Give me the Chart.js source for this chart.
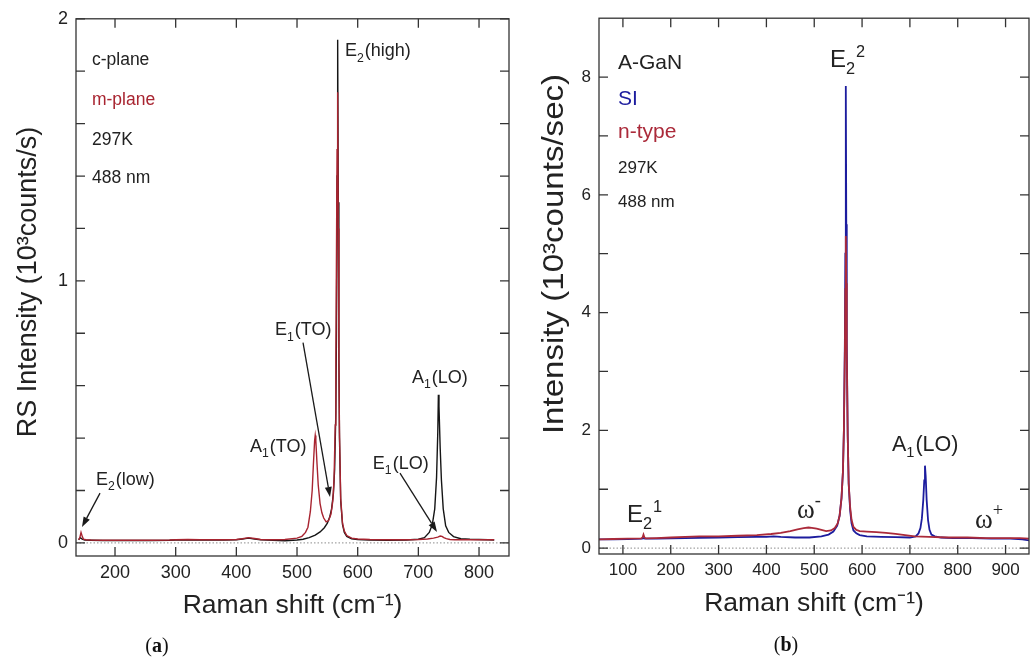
<!DOCTYPE html>
<html>
<head>
<meta charset="utf-8">
<script src="https://cdn.jsdelivr.net/npm/chart.js@4.4.1/dist/chart.umd.min.js"></script>
<style>
  html, body { margin: 0; padding: 0; background: #fff; }
  #wrap { position: relative; width: 1034px; height: 657px; overflow: hidden; }
  canvas { position: absolute; top: 0; }
  .cap { position: absolute; font: 20px "Liberation Serif", serif; color: #111; transform: translate(-50%, -50%); white-space: nowrap; }
</style>
</head>
<body>
<div id="wrap">
  <canvas id="ca" width="520" height="657" style="left:0;width:520px;height:657px"></canvas>
  <canvas id="cb" width="514" height="657" style="left:520px;width:514px;height:657px"></canvas>
  <div class="cap" style="left:157px;top:645px">(<b>a</b>)</div>
  <div class="cap" style="left:786px;top:644px">(<b>b</b>)</div>
</div>
<script>
// ---------------- Panel (a) data ----------------
const shiftA_c = [140, 143, 146, 150, 160, 180, 200, 230, 260, 290, 300, 320, 340, 360, 380, 400, 410, 420, 430, 440, 460, 480, 500, 510, 520, 530, 538, 545, 550, 554, 557, 560, 562, 564, 565, 566, 567, 568, 569, 570, 572, 575, 578, 582, 590, 600, 620, 650, 680, 700, 710, 718, 723, 727, 730, 732, 733, 734, 736, 738, 741, 745, 750, 758, 770, 785, 800, 815, 825];
const intA_c   = [0.012, 0.02, 0.014, 0.011, 0.01, 0.009, 0.009, 0.009, 0.009, 0.01, 0.011, 0.012, 0.011, 0.011, 0.011, 0.012, 0.015, 0.018, 0.015, 0.012, 0.01, 0.008, 0.011, 0.014, 0.02, 0.03, 0.042, 0.058, 0.075, 0.1, 0.13, 0.19, 0.28, 0.5, 0.8, 1.4, 1.92, 1.3, 0.7, 0.4, 0.16, 0.07, 0.04, 0.025, 0.016, 0.013, 0.011, 0.01, 0.011, 0.014, 0.02, 0.04, 0.07, 0.13, 0.25, 0.42, 0.565, 0.52, 0.36, 0.24, 0.13, 0.065, 0.04, 0.024, 0.016, 0.014, 0.013, 0.012, 0.011];

const shiftA_m = [140, 142, 144, 146, 148, 152, 160, 180, 200, 230, 260, 290, 300, 320, 340, 360, 380, 400, 410, 420, 430, 440, 460, 480, 500, 508, 514, 518, 522, 525, 527, 529, 530, 531, 533, 535, 538, 541, 544, 548, 552, 556, 559, 561, 563, 564, 565, 566, 567, 568, 569, 570, 572, 575, 578, 582, 590, 600, 620, 650, 680, 700, 715, 725, 732, 736, 739, 742, 746, 752, 760, 780, 800, 815, 825];
const intA_m   = [0.012, 0.02, 0.04, 0.025, 0.014, 0.012, 0.011, 0.01, 0.01, 0.01, 0.01, 0.011, 0.012, 0.013, 0.012, 0.012, 0.012, 0.013, 0.016, 0.02, 0.017, 0.013, 0.012, 0.013, 0.018, 0.025, 0.04, 0.06, 0.12, 0.2, 0.3, 0.39, 0.41, 0.39, 0.3, 0.22, 0.15, 0.115, 0.095, 0.08, 0.085, 0.11, 0.16, 0.24, 0.45, 0.7, 1.1, 1.5, 1.72, 1.2, 0.7, 0.42, 0.17, 0.075, 0.045, 0.028, 0.018, 0.015, 0.013, 0.012, 0.012, 0.013, 0.015, 0.018, 0.022, 0.026, 0.025, 0.02, 0.016, 0.013, 0.012, 0.012, 0.012, 0.012, 0.012];

const xTicksA = [200, 300, 400, 500, 600, 700, 800];
const yTicksA = [0, 0.2, 0.4, 0.6, 0.8, 1, 1.2, 1.4, 1.6, 1.8, 2];
const yLabelsA = [0, 1, 2];

// ---------------- Panel (b) data ----------------
const shiftB_si = [50, 80, 110, 140, 143, 146, 170, 200, 230, 260, 300, 340, 380, 400, 415, 430, 460, 490, 515, 530, 540, 548, 553, 557, 560, 562, 564, 565, 566, 567, 568, 570, 572, 575, 578, 582, 588, 595, 610, 640, 670, 700, 712, 718, 722, 725, 728, 730, 731.5, 733, 735, 738, 741, 745, 752, 765, 790, 830, 870, 910, 935, 950];
const intB_si   = [0.15, 0.15, 0.155, 0.16, 0.17, 0.16, 0.16, 0.165, 0.17, 0.175, 0.18, 0.185, 0.19, 0.19, 0.2, 0.19, 0.18, 0.18, 0.2, 0.23, 0.28, 0.38, 0.55, 0.85, 1.3, 2.0, 3.5, 5.0, 7.85, 5.5, 3.5, 1.9, 1.1, 0.65, 0.42, 0.3, 0.25, 0.22, 0.2, 0.19, 0.185, 0.18, 0.2, 0.25, 0.34, 0.5, 0.82, 1.15, 1.4, 1.22, 0.82, 0.47, 0.31, 0.23, 0.2, 0.18, 0.17, 0.17, 0.16, 0.16, 0.15, 0.13];

const shiftB_n = [50, 80, 110, 138, 141, 143, 145, 148, 170, 200, 230, 260, 300, 340, 380, 410, 430, 450, 465, 478, 488, 495, 505, 515, 525, 535, 543, 549, 553, 557, 560, 562, 564, 565, 566, 567, 568, 570, 572, 575, 578, 582, 588, 595, 610, 630, 650, 670, 690, 710, 740, 780, 820, 860, 900, 930, 950];
const intB_n   = [0.15, 0.155, 0.16, 0.165, 0.18, 0.23, 0.18, 0.165, 0.17, 0.18, 0.19, 0.2, 0.2, 0.21, 0.22, 0.24, 0.26, 0.29, 0.32, 0.34, 0.35, 0.345, 0.33, 0.31, 0.29, 0.3, 0.34, 0.42, 0.55, 0.85, 1.3, 2.0, 3.3, 4.4, 5.3, 4.5, 3.3, 1.9, 1.1, 0.7, 0.48, 0.36, 0.31, 0.29, 0.28, 0.27, 0.26, 0.24, 0.22, 0.2, 0.19, 0.18, 0.18, 0.17, 0.17, 0.17, 0.16];

const xTicksB = [100, 200, 300, 400, 500, 600, 700, 800, 900];
const yTicksB = [0, 1, 2, 3, 4, 5, 6, 7, 8];
const yLabelsB = [0, 2, 4, 6, 8];

// ---------------- helpers ----------------
const SANS = '"Liberation Sans", Arial, sans-serif';
const SERIF = '"Liberation Serif", "Times New Roman", serif';
const INK = '#222';
const RED_A = '#a82430';
const BLUE_B = '#1c1c9e';
const RED_B = '#ab2a3a';

function pts(xs, ys) { return xs.map((v, i) => ({x: v, y: ys[i]})); }

function drawRich(ctx, px, py, str, size, family, color) {
  const parts = [];
  let i = 0, buf = '';
  while (i < str.length) {
    const c = str[i];
    if ((c === '_' || c === '^') && str[i + 1] === '{') {
      if (buf) { parts.push({t: buf, m: 0}); buf = ''; }
      const j = str.indexOf('}', i);
      parts.push({t: str.slice(i + 2, j), m: c === '_' ? 1 : 2});
      i = j + 1;
    } else { buf += c; i++; }
  }
  if (buf) parts.push({t: buf, m: 0});
  ctx.save();
  ctx.fillStyle = color;
  ctx.textBaseline = 'alphabetic';
  ctx.textAlign = 'left';
  const base = py + 0.36 * size;
  let x = px;
  parts.forEach(p => {
    const s = p.m ? size * 0.68 : size;
    ctx.font = `${s}px ${family}`;
    const dy = p.m === 1 ? size * 0.3 : (p.m === 2 ? -size * 0.42 : 0);
    ctx.fillText(p.t, x, base + dy);
    x += ctx.measureText(p.t).width + (p.m ? 1 : 0);
  });
  ctx.restore();
}

const framePlugin = {
  id: 'frame',
  beforeDatasetsDraw(chart, args, o) {
    const {ctx, chartArea: a, scales: {x, y}} = chart;
    const y0 = y.getPixelForValue(0);
    ctx.save();
    ctx.strokeStyle = '#8c8c8c';
    ctx.lineWidth = 1;
    ctx.setLineDash([1.5, 2]);
    ctx.beginPath();
    ctx.moveTo(a.left, y0); ctx.lineTo(a.right, y0);
    ctx.stroke();
    ctx.restore();
  },
  afterDraw(chart, args, o) {
    const {ctx, chartArea: a, scales: {x, y}} = chart;
    ctx.save();
    ctx.strokeStyle = '#333';
    ctx.lineWidth = 1.3;
    ctx.strokeRect(a.left, a.top, a.right - a.left, a.bottom - a.top);
    ctx.beginPath();
    x.ticks.forEach(t => {
      const p = x.getPixelForValue(t.value);
      ctx.moveTo(p, a.bottom); ctx.lineTo(p, a.bottom - o.tick);
      ctx.moveTo(p, a.top); ctx.lineTo(p, a.top + o.tick);
    });
    y.ticks.forEach(t => {
      const p = y.getPixelForValue(t.value);
      ctx.moveTo(a.left, p); ctx.lineTo(a.left + o.tick, p);
      ctx.moveTo(a.right, p); ctx.lineTo(a.right - o.tick, p);
    });
    ctx.stroke();
    (o.arrows || []).forEach(ar => {
      const x1 = x.getPixelForValue(ar[0]), y1 = y.getPixelForValue(ar[1]);
      const x2 = x.getPixelForValue(ar[2]), y2 = y.getPixelForValue(ar[3]);
      const ang = Math.atan2(y2 - y1, x2 - x1);
      const L = 10, W = 3.5;
      const bx = x2 - L * Math.cos(ang), by = y2 - L * Math.sin(ang);
      ctx.strokeStyle = '#1a1a1a';
      ctx.lineWidth = 1.3;
      ctx.beginPath(); ctx.moveTo(x1, y1); ctx.lineTo(bx, by); ctx.stroke();
      ctx.fillStyle = '#1a1a1a';
      ctx.beginPath();
      ctx.moveTo(x2, y2);
      ctx.lineTo(bx - W * Math.sin(ang), by + W * Math.cos(ang));
      ctx.lineTo(bx + W * Math.sin(ang), by - W * Math.cos(ang));
      ctx.closePath(); ctx.fill();
    });
    ctx.restore();
    (o.texts || []).forEach(t => {
      drawRich(ctx, x.getPixelForValue(t[0]), y.getPixelForValue(t[1]), t[2], t[3], t[5] || SANS, t[4] || INK);
    });
    if (o.yTitle) {
      ctx.save();
      ctx.translate(o.yTitle.x, o.yTitle.y);
      ctx.rotate(-Math.PI / 2);
      ctx.scale(o.yTitle.stretch || 1, 1);
      ctx.font = `${o.yTitle.size}px ${SANS}`;
      ctx.fillStyle = INK;
      ctx.textAlign = 'center';
      ctx.textBaseline = 'middle';
      ctx.fillText(o.yTitle.text, 0, 0);
      ctx.restore();
    }
  }
};

function makeChart(id, cfg) {
  return new Chart(document.getElementById(id), {
    type: 'line',
    data: { datasets: cfg.datasets },
    options: {
      responsive: false,
      animation: false,
      devicePixelRatio: 1,
      events: [],
      layout: { padding: cfg.padding },
      plugins: {
        legend: { display: false },
        tooltip: { enabled: false },
        frame: cfg.frame
      },
      elements: { point: { radius: 0 }, line: { tension: 0, borderWidth: cfg.lw } },
      scales: {
        x: {
          type: 'linear',
          min: cfg.xmin, max: cfg.xmax,
          afterBuildTicks: s => { s.ticks = cfg.xTicks.map(v => ({value: v})); },
          afterFit: s => { s.height = cfg.xH; },
          grid: { display: false, drawTicks: false },
          border: { display: false },
          ticks: { autoSkip: false, maxRotation: 0, padding: cfg.xTickPad, color: INK,
                   font: { family: SANS, size: cfg.tickSize }, callback: v => String(v) },
          title: { display: true, text: 'Raman shift (cm\u207B\u00B9)', color: INK,
                   font: { family: SANS, size: 26.5 }, padding: { top: 0, bottom: cfg.xTitlePad } }
        },
        y: {
          type: 'linear',
          min: cfg.ymin, max: cfg.ymax,
          afterBuildTicks: s => { s.ticks = cfg.yTicks.map(v => ({value: v})); },
          afterFit: s => { s.width = cfg.yW; },
          grid: { display: false, drawTicks: false },
          border: { display: false },
          ticks: { autoSkip: false, padding: cfg.yTickPad, color: INK,
                   font: { family: SANS, size: cfg.tickSize },
                   callback: v => cfg.yLabels.includes(v) ? String(v) : '' },
          title: cfg.yTitle ? { display: true, text: cfg.yTitle, color: INK,
                   font: { family: SANS, size: 27 }, padding: { top: 13, bottom: 0 } } : { display: false }
        }
      }
    },
    plugins: [framePlugin]
  });
}

// Panel (a)
makeChart('ca', {
  datasets: [
    { label: 'm-plane', data: pts(shiftA_m, intA_m), borderColor: RED_A },
    { label: 'c-plane', data: pts(shiftA_c, intA_c), borderColor: '#151515' }
  ],
  lw: 1.4,
  padding: { top: 17, right: 11, left: 0, bottom: 0 },
  xmin: 135.7, xmax: 849.4, ymin: -0.05, ymax: 2,
  xTicks: xTicksA, yTicks: yTicksA, yLabels: yLabelsA,
  xH: 101, yW: 76, xTickPad: 6, yTickPad: 8, tickSize: 18, xTitlePad: 35,
  yTitle: null,
  frame: {
    tick: 9,
    yTitle: { x: 29, y: 282, size: 27, stretch: 1, text: 'RS Intensity (10\u00B3counts/s)' },
    texts: [
      [162, 1.848, 'c-plane', 17.5],
      [162, 1.696, 'm-plane', 17.5, RED_A],
      [162, 1.544, '297K', 17.5],
      [162, 1.399, '488 nm', 17.5],
      [579, 1.882, 'E_{2}(high)', 18],
      [463.7, 0.817, 'E_{1}(TO)', 18],
      [422.5, 0.373, 'A_{1}(TO)', 18],
      [168.7, 0.247, 'E_{2}(low)', 18],
      [689.5, 0.635, 'A_{1}(LO)', 18],
      [625, 0.308, 'E_{1}(LO)', 18]
    ],
    arrows: [
      [509.9, 0.764, 554.4, 0.175],
      [175.3, 0.19, 145.6, 0.061],
      [669.7, 0.266, 730.7, 0.042]
    ]
  }
});

// Panel (b)
makeChart('cb', {
  datasets: [
    { label: 'n-type', data: pts(shiftB_n, intB_n), borderColor: RED_B },
    { label: 'SI', data: pts(shiftB_si, intB_si), borderColor: BLUE_B }
  ],
  lw: 1.8,
  padding: { top: 16, right: 5, left: 0, bottom: 0 },
  xmin: 50, xmax: 949, ymin: -0.1, ymax: 9,
  xTicks: xTicksB, yTicks: yTicksB, yLabels: yLabelsB,
  xH: 103, yW: 79, xTickPad: 6, yTickPad: 8, tickSize: 17, xTitlePad: 37,
  yTitle: null,
  frame: {
    tick: 9,
    yTitle: { x: 35, y: 254, size: 29, stretch: 1.14, text: 'Intensity (10\u00B3counts/sec)' },
    texts: [
      [89.7, 8.27, 'A-GaN', 21],
      [89.7, 7.66, 'SI', 21, BLUE_B],
      [89.7, 7.09, 'n-type', 21, RED_B],
      [89.7, 6.48, '297K', 17],
      [89.7, 5.90, '488 nm', 17],
      [533, 8.32, 'E_{2}^{2}', 24],
      [108.5, 0.59, 'E_{2}^{1}', 24],
      [463.9, 0.68, '\u03C9^{-}', 27, INK, SERIF],
      [662.5, 1.78, 'A_{1}(LO)', 21.5],
      [836, 0.51, '\u03C9^{+}', 27, INK, SERIF]
    ]
  }
});
</script>
</body>
</html>
